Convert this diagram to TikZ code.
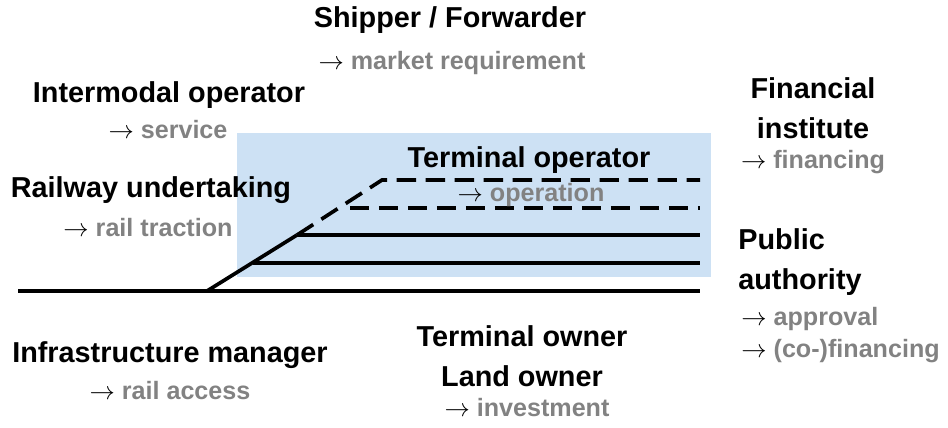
\documentclass[tikz,border=0pt]{standalone}
\usepackage{fontspec}
\setmainfont{Liberation Sans}
\usetikzlibrary{positioning}

\definecolor{terminalblue}{RGB}{205,225,244}
\definecolor{rolegray}{RGB}{130,130,130}
\newcommand{\roleto}{\textcolor{black}{$\rightarrow$}}

\begin{document}
\begin{tikzpicture}[
  x=0.02cm, y=-0.02cm,
  actor/.style={inner sep=0pt, align=center, font=\fontsize{16.4}{23}\selectfont\bfseries},
  role/.style={inner sep=0pt, text=rolegray, font=\fontsize{14.3}{18}\selectfont\bfseries},
  track/.style={line width=2.1pt},
  dtrack/.style={line width=2.1pt, dash pattern=on 11pt off 5.5pt}
]
\useasboundingbox (0,0) rectangle (948,427);

% terminal area
\fill[terminalblue] (237,133) rectangle (711,277);

% tracks
\coordinate (sw0) at (207,291);
\coordinate (sw1) at (253,263);
\coordinate (sw2) at (297,235);
\coordinate (sw3) at (350,208);
\coordinate (sw4) at (382,180);
\draw[track] (18,291) -- (700,291);
\draw[track] (sw0) -- (sw2);
\draw[track] (sw1) -- (700,263);
\draw[track] (sw2) -- (700,235);
\draw[dtrack] (sw2) -- (sw4) -- (700,180);
\draw[dtrack] (sw3) -- (700,208);

% actors and roles
\node[actor] (shipper) at (450,20) {Shipper / Forwarder};
\node[role] (market) at (452,63) {\roleto{} market requirement};

\node[actor] (intermodal) at (169,95) {Intermodal operator};
\node[role] (service) at (168,130) {\roleto{} service};

\node[actor] (railway) at (151,190) {Railway undertaking};
\node[role] (traction) at (148,228) {\roleto{} rail traction};

\node[actor] (termop) at (529,160) {Terminal operator};
\node[role] (operation) at (531,195) {\roleto{} operation};

\node[actor] (infra) at (170,355) {Infrastructure manager};
\node[role] (access) at (170,391) {\roleto{} rail access};

\node[actor] (owner) at (522,356) {Terminal owner\\Land owner};
\node[role] (invest) at (527,408) {\roleto{} investment};

\node[actor] (financial) at (813,108) {Financial\\institute};
\node[role] (financing) at (813,162) {\roleto{} financing};

\node[actor, align=left, anchor=west] (public) at (738,262) {Public\\authority};
\node[role, anchor=north west, align=left] (approval) at (741,307) {\roleto{} approval\\\roleto{} (co-)financing};
\end{tikzpicture}
\end{document}
